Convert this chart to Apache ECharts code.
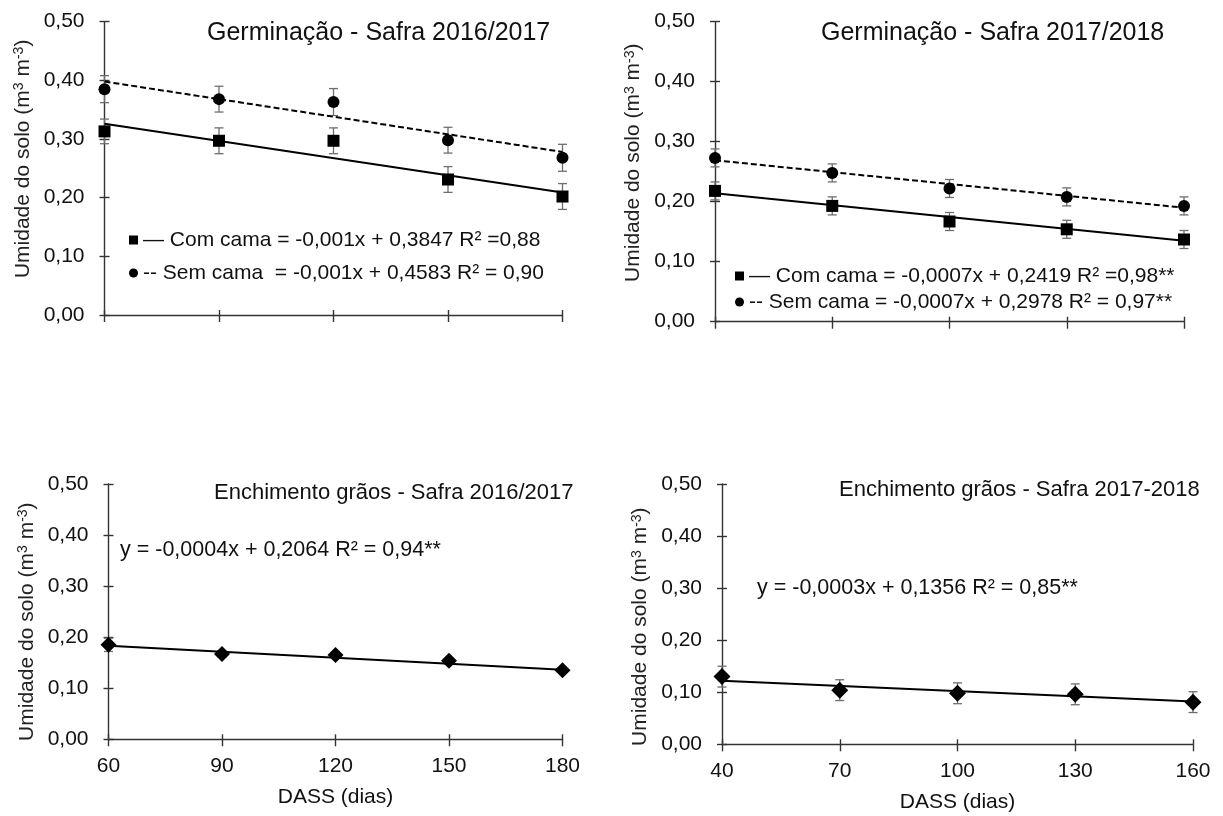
<!DOCTYPE html>
<html>
<head>
<meta charset="utf-8">
<script src="https://cdn.jsdelivr.net/npm/echarts@6/dist/echarts.min.js"></script>
<style>
  html, body { margin: 0; padding: 0; background: #fff; }
  #chart { width: 1223px; height: 816px; }
</style>
</head>
<body>
<div id="chart"></div>
<script>
// x categories (DASS, dias)
let dass1617 = ['60', '90', '120', '150', '180'];
let dass1718 = ['40', '70', '100', '130', '160'];
let yTicks = [0, 0.1, 0.2, 0.3, 0.4, 0.5];

// Germinação 2016/2017
let comCama1617 = [0.313, 0.297, 0.297, 0.231, 0.202];
let comErr1617 = [0.021, 0.022, 0.022, 0.022, 0.022];
let semCama1617 = [0.385, 0.368, 0.363, 0.298, 0.268];
let semErr1617 = [0.023, 0.022, 0.023, 0.022, 0.023];
let trendCom1617 = [0.326, 0.209];
let trendSem1617 = [0.398, 0.278];

// Germinação 2017/2018
let comCama1718 = [0.218, 0.193, 0.167, 0.154, 0.137];
let comErr1718 = [0.015, 0.015, 0.015, 0.015, 0.015];
let semCama1718 = [0.273, 0.248, 0.222, 0.208, 0.193];
let semErr1718 = [0.015, 0.015, 0.015, 0.015, 0.015];
let trendCom1718 = [0.214, 0.135];
let trendSem1718 = [0.269, 0.190];

// Enchimento grãos
let ench1617 = [0.185, 0.167, 0.165, 0.154, 0.135];
let enchErr1617 = [0.013, 0.006, 0.006, 0.006, 0.005];
let trendEnch1617 = [0.183, 0.136];
let ench1718 = [0.130, 0.104, 0.098, 0.096, 0.081];
let enchErr1718 = [0.020, 0.020, 0.020, 0.020, 0.020];
let trendEnch1718 = [0.122, 0.082];

let font = 'Liberation Sans';
let textColor = '#111';
let axisColor = '#333';

let chart = echarts.init(document.getElementById('chart'));

let grids = [
    { left: 104.5, top: 21.7, width: 458, height: 293.3 },
    { left: 715, top: 21.7, width: 469, height: 300 },
    { left: 108.5, top: 484, width: 454, height: 255.3 },
    { left: 722, top: 484, width: 471, height: 260.3 }
];
// shifts the rotated y name along the axis (left pad = up, right pad = down)
let namePads = [[0, 0, 0, 19], [0, 0, 0, 18], [0, 20, 0, 0], [0, 25, 0, 0]];

let xAxes = [];
let yAxes = [];
grids.forEach(function (g, i) {
    let cats = (i % 2 === 0) ? dass1617 : dass1718;
    let bottomRow = i >= 2;
    xAxes.push({
        type: 'category', gridIndex: i, data: cats, boundaryGap: false, position: 'bottom',
        axisLine: { lineStyle: { color: axisColor, width: 1.4 } },
        axisTick: { length: 7, lineStyle: { color: axisColor, width: 1.4 } },
        axisLabel: { show: bottomRow, fontFamily: font, fontSize: 21, color: textColor, margin: 16 },
        name: bottomRow ? 'DASS (dias)' : '', nameLocation: 'middle', nameGap: 47,
        nameTextStyle: { fontFamily: font, fontSize: 21, color: textColor },
        splitLine: { show: false }
    });
    // inside half of the cross ticks
    xAxes.push({
        type: 'category', gridIndex: i, data: cats, boundaryGap: false, position: 'bottom',
        axisLine: { show: false },
        axisTick: { inside: true, length: 5, lineStyle: { color: axisColor, width: 1.4 } },
        axisLabel: { show: false }, splitLine: { show: false }
    });
    yAxes.push({
        type: 'value', gridIndex: i, position: 'left',
        min: yTicks[0], max: yTicks[yTicks.length - 1], interval: 0.1,
        axisLine: { show: true, lineStyle: { color: axisColor, width: 1.4 } },
        axisTick: { show: true, length: 5, lineStyle: { color: axisColor, width: 1.4 } },
        axisLabel: {
            fontFamily: font, fontSize: 21, color: textColor, margin: 20,
            formatter: function (v) { return v.toFixed(2).replace('.', ','); }
        },
        splitLine: { show: false },
        name: 'Umidade do solo (m{sup|3} m{sup|-3})', nameLocation: 'middle', nameGap: 71,
        nameTextStyle: {
            fontFamily: font, fontSize: 21, color: '#222', padding: namePads[i],
            rich: { sup: { fontFamily: font, fontSize: 14, color: '#222', verticalAlign: 'top' } }
        }
    });
    yAxes.push({
        type: 'value', gridIndex: i, position: 'left',
        min: yTicks[0], max: yTicks[yTicks.length - 1], interval: 0.1,
        axisLine: { show: false },
        axisTick: { show: true, inside: true, length: 5, lineStyle: { color: axisColor, width: 1.4 } },
        axisLabel: { show: false }, splitLine: { show: false }
    });
});

function errorBars(values, errs, gi) {
    return {
        type: 'custom', xAxisIndex: gi * 2, yAxisIndex: gi * 2, z: 1,
        data: values.map(function (v, k) { return [k, v - errs[k], v + errs[k]]; }),
        encode: { x: 0, y: [1, 2] },
        renderItem: function (params, api) {
            let top = api.coord([api.value(0), api.value(2)]);
            let bot = api.coord([api.value(0), api.value(1)]);
            let w = 4.5;
            let st = { stroke: '#6e6e6e', lineWidth: 1.3 };
            return {
                type: 'group',
                children: [
                    { type: 'line', shape: { x1: top[0], y1: top[1], x2: bot[0], y2: bot[1] }, style: st },
                    { type: 'line', shape: { x1: top[0] - w, y1: top[1], x2: top[0] + w, y2: top[1] }, style: st },
                    { type: 'line', shape: { x1: bot[0] - w, y1: bot[1], x2: bot[0] + w, y2: bot[1] }, style: st }
                ]
            };
        }
    };
}

function trend(name, ends, gi, dashed) {
    return {
        name: name, type: 'line', xAxisIndex: gi * 2, yAxisIndex: gi * 2, z: 2,
        data: [[0, ends[0]], [4, ends[1]]],
        symbol: 'none', silent: true,
        lineStyle: { color: '#000', width: 2, type: dashed ? [6, 3] : 'solid' }
    };
}

function points(name, values, gi, symbol, size) {
    return {
        name: name, type: 'scatter', xAxisIndex: gi * 2, yAxisIndex: gi * 2, z: 3,
        data: values.map(function (v, k) { return [k, v]; }),
        symbol: symbol, symbolSize: size,
        itemStyle: { color: '#000', opacity: 1 }
    };
}

let series = [
    errorBars(comCama1617, comErr1617, 0),
    errorBars(semCama1617, semErr1617, 0),
    trend('tCom1617', trendCom1617, 0, false),
    trend('tSem1617', trendSem1617, 0, true),
    points('Com cama 16/17', comCama1617, 0, 'rect', 12),
    points('Sem cama 16/17', semCama1617, 0, 'circle', 12),

    errorBars(comCama1718, comErr1718, 1),
    errorBars(semCama1718, semErr1718, 1),
    trend('tCom1718', trendCom1718, 1, false),
    trend('tSem1718', trendSem1718, 1, true),
    points('Com cama 17/18', comCama1718, 1, 'rect', 12),
    points('Sem cama 17/18', semCama1718, 1, 'circle', 12),

    errorBars(ench1617, enchErr1617, 2),
    trend('tEnch1617', trendEnch1617, 2, false),
    points('Enchimento 16/17', ench1617, 2, 'diamond', 16),

    errorBars(ench1718, enchErr1718, 3),
    trend('tEnch1718', trendEnch1718, 3, false),
    points('Enchimento 17/18', ench1718, 3, 'diamond', 17)
];

let legendText = {
    'Com cama 16/17': '\u2014 Com cama = -0,001x + 0,3847 R\u00b2 =0,88',
    'Sem cama 16/17': '-- Sem cama  = -0,001x + 0,4583 R\u00b2 = 0,90',
    'Com cama 17/18': '\u2014 Com cama = -0,0007x + 0,2419 R\u00b2 =0,98**',
    'Sem cama 17/18': '-- Sem cama = -0,0007x + 0,2978 R\u00b2 = 0,97**'
};

function legend(names, left, top, gap) {
    return {
        orient: 'vertical', left: left, top: top, itemGap: gap, padding: 0,
        selectedMode: false, itemWidth: 9, itemHeight: 9,
        data: [{ name: names[0], icon: 'rect' }, { name: names[1], icon: 'circle' }],
        formatter: function (n) { return legendText[n]; },
        textStyle: { fontFamily: font, fontSize: 21, color: textColor, lineHeight: 22 }
    };
}

let titleStyle = { fontFamily: font, fontWeight: 'normal', color: textColor };

let option = {
    backgroundColor: '#fff',
    animation: false,
    title: [
        { text: 'Germinação - Safra 2016/2017', left: 207, top: 21, padding: 0, textStyle: Object.assign({ fontSize: 25 }, titleStyle) },
        { text: 'Germinação - Safra 2017/2018', left: 821, top: 21, padding: 0, textStyle: Object.assign({ fontSize: 25 }, titleStyle) },
        { text: 'Enchimento grãos - Safra 2016/2017', left: 214, top: 482, padding: 0, textStyle: Object.assign({ fontSize: 22 }, titleStyle) },
        { text: 'Enchimento grãos - Safra 2017-2018', left: 839, top: 479, padding: 0, textStyle: Object.assign({ fontSize: 22 }, titleStyle) }
    ],
    legend: [
        legend(['Com cama 16/17', 'Sem cama 16/17'], 129, 229, 11),
        legend(['Com cama 17/18', 'Sem cama 17/18'], 735, 265, 4)
    ],
    graphic: [
        { type: 'text', left: 120, top: 539, style: { text: 'y = -0,0004x + 0,2064 R\u00b2 = 0,94**', font: '21.5px "Liberation Sans"', fill: textColor } },
        { type: 'text', left: 757, top: 577, style: { text: 'y = -0,0003x + 0,1356 R\u00b2 = 0,85**', font: '21.5px "Liberation Sans"', fill: textColor } }
    ],
    grid: grids,
    xAxis: xAxes,
    yAxis: yAxes,
    series: series
};

chart.setOption(option);
</script>
</body>
</html>
